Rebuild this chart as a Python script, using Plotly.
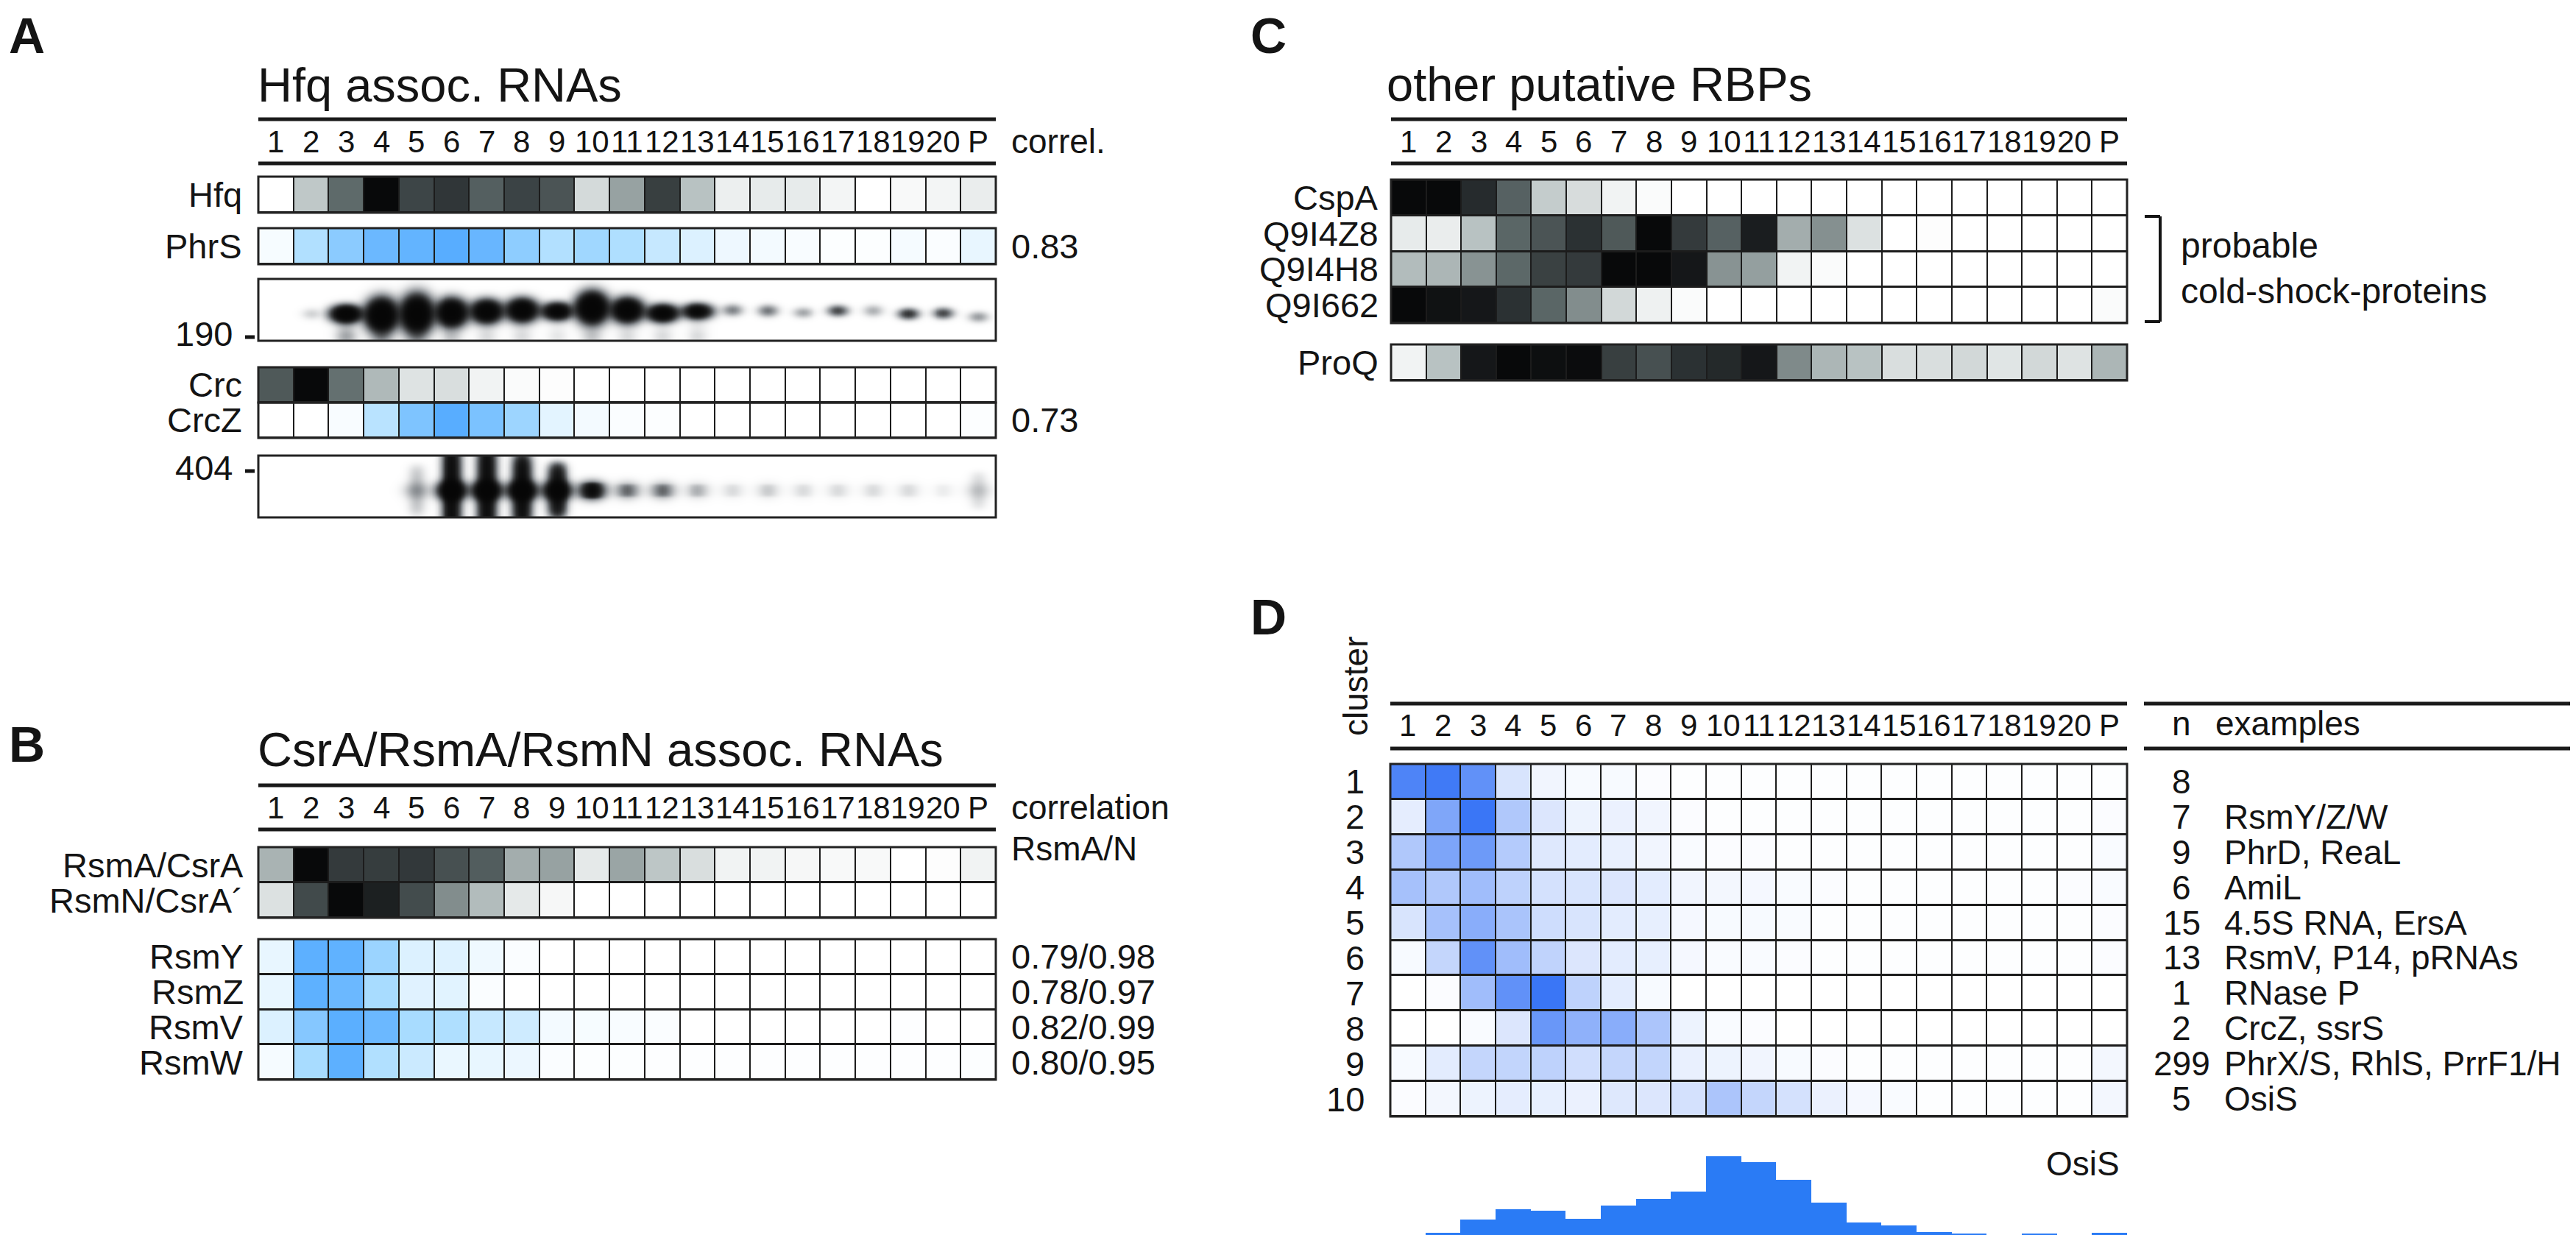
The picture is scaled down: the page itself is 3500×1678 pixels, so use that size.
import numpy as np
import plotly.graph_objects as go

W, H = 3500, 1678
FONT = "Liberation Sans, Arial, Helvetica, sans-serif"
INK = "#141414"

# ------------------------------------------------------------------ data
fractions = [str(i) for i in range(1, 21)] + ["P"]

# Panel A  (Hfq associated RNAs)
hfq_profile = [0.00, 0.27, 0.60, 1.00, 0.77, 0.84, 0.65, 0.78, 0.70, 0.18, 0.41,
               0.80, 0.30, 0.08, 0.10, 0.10, 0.05, 0.00, 0.03, 0.05, 0.09]
phrs_profile = [0.05, 0.45, 0.68, 0.88, 0.93, 1.00, 0.90, 0.66, 0.44, 0.55, 0.46,
                0.33, 0.20, 0.10, 0.07, 0.04, 0.02, 0.02, 0.06, 0.03, 0.13]
crc_profile = [0.68, 1.00, 0.58, 0.33, 0.14, 0.16, 0.06, 0.02, 0.01, 0.00, 0.00,
               0.00, 0.00, 0.00, 0.00, 0.00, 0.00, 0.00, 0.00, 0.00, 0.00]
crcz_profile = [0.00, 0.00, 0.04, 0.40, 0.76, 1.00, 0.78, 0.57, 0.16, 0.07, 0.03,
                0.02, 0.00, 0.00, 0.00, 0.00, 0.00, 0.00, 0.00, 0.00, 0.02]
corr_A = ["0.83", "0.73"]

# Northern blot of PhrS (band signal, band position, band spread, trail)
phrs_blot_signal = [0.0, 0.06, 1.8, 2.2, 2.2, 2.0, 1.8, 1.8, 1.5, 2.2, 1.9,
                    1.6, 1.3, 0.22, 0.25, 0.14, 0.40, 0.12, 0.50, 0.40, 0.16]
phrs_blot_pos = [0.44, 0.44, 0.44, 0.42, 0.44, 0.46, 0.48, 0.50, 0.48, 0.54, 0.50,
                 0.45, 0.48, 0.50, 0.49, 0.46, 0.49, 0.49, 0.44, 0.45, 0.39]
phrs_blot_spread = [0.06, 0.06, 0.080, 0.150, 0.170, 0.125, 0.105, 0.105, 0.080, 0.140, 0.110,
                    0.080, 0.072, 0.060, 0.060, 0.055, 0.055, 0.060, 0.055, 0.055, 0.055]
phrs_blot_trail = [0.0, 0.0, 0.09, 0.10, 0.08, 0.05, 0.03, 0.03, 0.02, 0.05, 0.03,
                   0.03, 0.03, 0.0, 0.0, 0.0, 0.0, 0.0, 0.0, 0.0, 0.0]
# Northern blot of CrcZ (signal, streak half-length)
crcz_blot_signal = [0.0, 0.0, 0.0, 0.0, 0.08, 1.0, 1.0, 1.0, 0.85, 0.45, 0.12,
                    0.12, 0.05, 0.02, 0.03, 0.02, 0.02, 0.02, 0.02, 0.01, 0.04]
crcz_blot_length = [0.0, 0.0, 0.0, 0.0, 0.40, 0.80, 0.80, 0.58, 0.42, 0.12, 0.10,
                    0.10, 0.10, 0.10, 0.10, 0.10, 0.10, 0.10, 0.10, 0.10, 0.30]

# Panel B  (CsrA/RsmA/RsmN associated RNAs)
rsma_profile = [0.35, 1.00, 0.82, 0.81, 0.83, 0.72, 0.66, 0.37, 0.41, 0.11, 0.40,
                0.28, 0.16, 0.06, 0.06, 0.04, 0.03, 0.03, 0.00, 0.01, 0.06]
rsmn_profile = [0.15, 0.75, 1.00, 0.92, 0.74, 0.48, 0.32, 0.11, 0.04, 0.00, 0.00,
                0.00, 0.00, 0.00, 0.00, 0.00, 0.00, 0.00, 0.00, 0.00, 0.00]
rsmy_profile = [0.13, 0.97, 0.95, 0.58, 0.20, 0.19, 0.09, 0.03, 0.00, 0.00, 0.00,
                0.00, 0.00, 0.00, 0.00, 0.00, 0.00, 0.00, 0.00, 0.00, 0.00]
rsmz_profile = [0.13, 0.96, 0.88, 0.50, 0.18, 0.17, 0.03, 0.00, 0.00, 0.00, 0.00,
                0.00, 0.00, 0.00, 0.00, 0.00, 0.00, 0.00, 0.00, 0.00, 0.00]
rsmv_profile = [0.20, 0.72, 0.98, 0.88, 0.50, 0.46, 0.33, 0.28, 0.07, 0.05, 0.04,
                0.03, 0.00, 0.00, 0.00, 0.00, 0.00, 0.00, 0.01, 0.00, 0.00]
rsmw_profile = [0.06, 0.50, 0.97, 0.45, 0.30, 0.12, 0.13, 0.11, 0.03, 0.02, 0.02,
                0.01, 0.01, 0.01, 0.01, 0.01, 0.01, 0.01, 0.01, 0.01, 0.02]
corr_B = ["0.79/0.98", "0.78/0.97", "0.82/0.99", "0.80/0.95"]

# Panel C  (other putative RBPs)
cspa_profile = [1.00, 1.00, 0.88, 0.64, 0.25, 0.17, 0.06, 0.02, 0.00, 0.00, 0.00,
                0.00, 0.00, 0.00, 0.00, 0.00, 0.00, 0.00, 0.00, 0.00, 0.00]
q9i4z8_profile = [0.10, 0.09, 0.30, 0.62, 0.70, 0.86, 0.68, 1.00, 0.82, 0.64, 0.93,
                  0.37, 0.47, 0.15, 0.00, 0.01, 0.00, 0.00, 0.00, 0.00, 0.00]
q9i4h8_profile = [0.32, 0.34, 0.46, 0.61, 0.79, 0.82, 1.00, 1.00, 0.95, 0.46, 0.42,
                  0.06, 0.02, 0.00, 0.00, 0.00, 0.00, 0.00, 0.00, 0.00, 0.00]
q9i662_profile = [1.00, 0.97, 0.95, 0.86, 0.62, 0.48, 0.19, 0.07, 0.02, 0.00, 0.00,
                  0.00, 0.00, 0.00, 0.00, 0.00, 0.00, 0.00, 0.00, 0.00, 0.02]
proq_profile = [0.06, 0.30, 0.95, 1.00, 0.98, 0.99, 0.80, 0.72, 0.86, 0.89, 0.95,
                0.49, 0.34, 0.30, 0.16, 0.16, 0.19, 0.13, 0.19, 0.14, 0.34]

# Panel D  (clusters)
cluster_ids = [str(i) for i in range(1, 11)]
cluster_profiles = [
    [0.90, 0.97, 0.80, 0.20, 0.07, 0.04, 0.04, 0.02, 0.01, 0.01, 0.01, 0.01, 0.01, 0.01, 0.01, 0.01, 0.01, 0.01, 0.01, 0.01, 0.01],
    [0.13, 0.65, 1.00, 0.40, 0.18, 0.09, 0.10, 0.07, 0.02, 0.01, 0.01, 0.01, 0.01, 0.01, 0.01, 0.01, 0.01, 0.01, 0.01, 0.01, 0.02],
    [0.40, 0.66, 0.74, 0.38, 0.17, 0.14, 0.11, 0.07, 0.03, 0.02, 0.02, 0.01, 0.01, 0.01, 0.01, 0.01, 0.01, 0.01, 0.01, 0.01, 0.03],
    [0.45, 0.40, 0.48, 0.33, 0.22, 0.20, 0.18, 0.14, 0.07, 0.06, 0.05, 0.03, 0.02, 0.01, 0.01, 0.01, 0.01, 0.01, 0.01, 0.02, 0.03],
    [0.20, 0.45, 0.60, 0.43, 0.25, 0.20, 0.14, 0.12, 0.05, 0.04, 0.04, 0.03, 0.01, 0.01, 0.01, 0.01, 0.01, 0.01, 0.01, 0.01, 0.02],
    [0.04, 0.30, 0.80, 0.48, 0.32, 0.18, 0.14, 0.12, 0.05, 0.03, 0.03, 0.02, 0.01, 0.01, 0.01, 0.01, 0.01, 0.01, 0.01, 0.01, 0.02],
    [0.00, 0.02, 0.48, 0.80, 1.00, 0.33, 0.14, 0.04, 0.00, 0.00, 0.00, 0.00, 0.00, 0.00, 0.00, 0.00, 0.00, 0.00, 0.00, 0.00, 0.00],
    [0.00, 0.00, 0.03, 0.18, 0.76, 0.57, 0.60, 0.42, 0.09, 0.03, 0.02, 0.00, 0.00, 0.00, 0.00, 0.00, 0.00, 0.00, 0.00, 0.00, 0.00],
    [0.04, 0.14, 0.30, 0.31, 0.33, 0.24, 0.30, 0.31, 0.11, 0.09, 0.07, 0.04, 0.02, 0.01, 0.01, 0.01, 0.01, 0.01, 0.01, 0.01, 0.06],
    [0.02, 0.06, 0.09, 0.13, 0.12, 0.10, 0.17, 0.18, 0.22, 0.42, 0.30, 0.22, 0.10, 0.05, 0.03, 0.01, 0.01, 0.01, 0.01, 0.01, 0.06],
]
cluster_n = ["8", "7", "9", "6", "15", "13", "1", "2", "299", "5"]
cluster_examples = ["", "RsmY/Z/W", "PhrD, ReaL", "AmiL", "4.5S RNA, ErsA",
                    "RsmV, P14, pRNAs", "RNase P", "CrcZ, ssrS",
                    "PhrX/S, RhlS, PrrF1/H", "OsiS"]
osis_profile = [0.00, 0.47, 2.11, 3.39, 3.20, 2.24, 3.88, 4.69, 5.56, 10.00, 9.25,
                7.05, 4.22, 1.74, 1.34, 0.53, 0.34, 0.06, 0.40, 0.16, 0.47]

# ------------------------------------------------------------------ styles
GRAY_CS = [[0, "#ffffff"], [0.3, "#b8c2c2"], [0.6, "#5e6a6a"], [0.85, "#2e3436"], [1, "#08090a"]]
BLUE_CS = [[0, "#ffffff"], [0.5, "#a8dcff"], [1, "#58adff"]]
DBLUE_CS = [[0, "#ffffff"], [1, "#3a76f6"]]
BLOT_CS = [[0, "#ffffff"], [0.5, "#8a8e92"], [1, "#060606"]]


def X(px):
    return px / W


def Y(py):
    return 1 - py / H


fig = go.Figure()
layout_axes = {}
shapes = []
ann = []

# axes geometry in pixels: (x0, x1, y0_top, y1_bottom)
boxes = {
    "hfq": (343, 1345, 232, 281),
    "phrs": (343, 1345, 302, 351),
    "gel1": (343, 1345, 371, 455),
    "crc": (343, 1345, 491, 539),
    "crcz": (343, 1345, 539, 587),
    "gel2": (343, 1345, 611, 695),
    "rsmAN": (343, 1345, 1143, 1239),
    "rsmYW": (343, 1345, 1268, 1459),
    "csp": (1882, 2882, 236, 431),
    "proq": (1882, 2882, 460, 509),
    "clus": (1881, 2882, 1030, 1509),
    "hist": (1881, 2882, 1563, 1672),
}
axis_id = {}


def make_axis(key, yrange):
    n = len(axis_id) + 1
    axis_id[key] = n
    x0, x1, y0, y1 = boxes[key]
    layout_axes["xaxis" if n == 1 else f"xaxis{n}"] = dict(
        domain=[X(x0), X(x1)], range=[-0.5, 20.5], visible=False,
        anchor="y" if n == 1 else f"y{n}", fixedrange=True)
    layout_axes["yaxis" if n == 1 else f"yaxis{n}"] = dict(
        domain=[Y(y1), Y(y0)], range=yrange, visible=False,
        anchor="x" if n == 1 else f"x{n}", fixedrange=True)
    xr = "x" if n == 1 else f"x{n}"
    yr = "y" if n == 1 else f"y{n}"
    return xr, yr


def heat_block(key, rows, names, cs, label_right):
    nrow = len(rows)
    xr, yr = make_axis(key, [nrow - 0.5, -0.5])
    shapes.append(dict(type="rect", xref=xr + " domain", yref=yr + " domain",
                       x0=0, x1=1, y0=0, y1=1, fillcolor="#1c1c1c",
                       line=dict(width=0), layer="below"))
    fig.add_trace(go.Heatmap(z=rows, x=list(range(21)), y=list(range(nrow)),
                             zmin=0, zmax=1, colorscale=cs, showscale=False,
                             xgap=2, ygap=3, hoverinfo="skip",
                             xaxis=xr, yaxis=yr))
    shapes.append(dict(type="rect", xref=xr + " domain", yref=yr + " domain",
                       x0=0, x1=1, y0=0, y1=1, line=dict(color="#222222", width=3),
                       fillcolor="rgba(0,0,0,0)", layer="above"))
    for i, nm in enumerate(names):
        if nm:
            ann.append(dict(text=nm, xref="paper", yref=yr, x=X(label_right), y=i,
                            xanchor="right", yanchor="middle", showarrow=False,
                            font=dict(size=47, family=FONT, color=INK)))
    return xr, yr


gx = np.linspace(-0.5, 20.5, 253)
gy = np.linspace(0, 1, 85)
GX, GY = np.meshgrid(gx, gy)


def phrs_blot():
    z = np.zeros_like(GX)
    for i, s in enumerate(phrs_blot_signal):
        if s <= 0:
            continue
        wx = 0.25 if s > 1 else 0.18
        lane = np.exp(-0.5 * ((GX - i) / wx) ** 2)
        z += s * lane * np.exp(-0.5 * ((GY - phrs_blot_pos[i]) / phrs_blot_spread[i]) ** 2)
        below = 1 / (1 + np.exp((GY - phrs_blot_pos[i]) / 0.03))
        z += phrs_blot_trail[i] * np.exp(-0.5 * ((GX - i) / 0.2) ** 2) * below
        z += 0.6 * phrs_blot_trail[i] * np.exp(-0.5 * ((GX - i) / 0.18) ** 2) * np.exp(-0.5 * ((GY - 0.08) / 0.06) ** 2)
    return 1 - np.exp(-3.5 * z)


def crcz_blot():
    z = np.zeros_like(GX)
    c = 0.44
    for i, s in enumerate(crcz_blot_signal):
        if s <= 0:
            continue
        L = crcz_blot_length[i]
        z += s * np.exp(-0.5 * ((GX - i) / 0.16) ** 2) * np.exp(-np.abs((GY - c) / L) ** 6)
        z += 1.5 * s * np.exp(-0.5 * ((GX - i) / 0.24) ** 2) * np.exp(-0.5 * ((GY - c) / 0.09) ** 2)
    return 1 - np.exp(-3.5 * z)


def gel_block(key, zimg, size_label, tick_py, label_py):
    xr, yr = make_axis(key, [0, 1])
    fig.add_trace(go.Heatmap(z=zimg, x=gx, y=gy, zmin=0, zmax=1, colorscale=BLOT_CS,
                             showscale=False, zsmooth="best", hoverinfo="skip",
                             xaxis=xr, yaxis=yr))
    shapes.append(dict(type="rect", xref=xr + " domain", yref=yr + " domain",
                       x0=0, x1=1, y0=0, y1=1, line=dict(color="#222222", width=3),
                       fillcolor="rgba(0,0,0,0)", layer="above"))
    shapes.append(dict(type="line", xref="paper", yref="paper", x0=X(325), x1=X(338),
                       y0=Y(tick_py), y1=Y(tick_py), line=dict(color=INK, width=5)))
    ann.append(dict(text=size_label, xref="paper", yref="paper", x=X(310), y=Y(label_py),
                    xanchor="right", yanchor="middle", showarrow=False,
                    font=dict(size=47, family=FONT, color=INK)))


def rules(x0, x1, ytop, ybot):
    for yy in (ytop, ybot):
        shapes.append(dict(type="line", xref="paper", yref="paper", x0=X(x0), x1=X(x1),
                           y0=Y(yy), y1=Y(yy), line=dict(color="#1a1a1a", width=5)))


def col_labels(xr, ypx):
    for i, f in enumerate(fractions):
        ann.append(dict(text=f, xref=xr, yref="paper", x=i, y=Y(ypx), xanchor="center",
                        yanchor="middle", showarrow=False,
                        font=dict(size=42, family=FONT, color=INK)))


def text(t, xpx, ypx, anchor="left", size=47, yref="paper", yval=None, bold=False,
         angle=0, yanchor="middle"):
    ann.append(dict(text=f"<b>{t}</b>" if bold else t, xref="paper", yref=yref,
                    x=X(xpx), y=Y(ypx) if yval is None else yval,
                    xanchor=anchor, yanchor=yanchor, showarrow=False, textangle=angle,
                    font=dict(size=size, family=FONT, color=INK)))


# ------------------------------------------------------------------ Panel A
text("A", 2, 0, size=68, bold=True, yanchor="top")
text("Hfq assoc. RNAs", 340, 107, size=65)
rules(343, 1345, 154, 214)
xa, _ = heat_block("hfq", [hfq_profile], ["Hfq"], GRAY_CS, 323)
col_labels(xa, 184)
text("correl.", 1364, 184, size=46)
_, yp = heat_block("phrs", [phrs_profile], ["PhrS"], BLUE_CS, 323)
text(corr_A[0], 1364, 0, yref=yp, yval=0)
gel_block("gel1", phrs_blot(), "190", 450, 445)
heat_block("crc", [crc_profile], ["Crc"], GRAY_CS, 323)
_, yz = heat_block("crcz", [crcz_profile], ["CrcZ"], BLUE_CS, 323)
text(corr_A[1], 1364, 0, yref=yz, yval=0)
gel_block("gel2", crcz_blot(), "404", 632, 628)

# ------------------------------------------------------------------ Panel B
text("B", 2, 1003, size=68, bold=True)
text("CsrA/RsmA/RsmN assoc. RNAs", 340, 1010, size=65)
rules(343, 1345, 1059, 1119)
xb, _ = heat_block("rsmAN", [rsma_profile, rsmn_profile], ["RsmA/CsrA", "RsmN/CsrA\u00b4"], GRAY_CS, 325)
col_labels(xb, 1089)
text("correlation", 1364, 1089, size=46)
text("RsmA/N", 1364, 1145, size=46)
_, yb = heat_block("rsmYW", [rsmy_profile, rsmz_profile, rsmv_profile, rsmw_profile],
                   ["RsmY", "RsmZ", "RsmV", "RsmW"], BLUE_CS, 325)
for i, c in enumerate(corr_B):
    text(c, 1364, 0, yref=yb, yval=i)

# ------------------------------------------------------------------ Panel C
text("C", 1689, 0, size=68, bold=True, yanchor="top")
text("other putative RBPs", 1874, 106, size=65)
rules(1882, 2882, 154, 214)
xc, _ = heat_block("csp", [cspa_profile, q9i4z8_profile, q9i4h8_profile, q9i662_profile],
                   ["CspA", "Q9I4Z8", "Q9I4H8", "Q9I662"], GRAY_CS, 1867)
col_labels(xc, 184)
heat_block("proq", [proq_profile], ["ProQ"], GRAY_CS, 1867)
for seg in [((2927, 286), (2927, 429)), ((2906, 286), (2927, 286)), ((2906, 429), (2927, 429))]:
    shapes.append(dict(type="line", xref="paper", yref="paper", x0=X(seg[0][0]), x1=X(seg[1][0]),
                       y0=Y(seg[0][1]), y1=Y(seg[1][1]), line=dict(color=INK, width=4)))
text("probable", 2953, 325, size=48)
text("cold-shock-proteins", 2953, 387, size=48)

# ------------------------------------------------------------------ Panel D
text("D", 1689, 830, size=68, bold=True)
text("cluster", 1834, 925, anchor="center", size=46, angle=-90)
rules(1881, 2882, 948, 1009)
rules(2905, 3500, 948, 1009)
xd, yd = heat_block("clus", cluster_profiles, cluster_ids, DBLUE_CS, 1848)
col_labels(xd, 977)
text("n", 2956, 975, anchor="center", size=46)
text("examples", 3000, 975, size=46)
for i in range(len(cluster_ids)):
    text(cluster_n[i], 2956, 0, anchor="center", size=46, yref=yd, yval=i)
    if cluster_examples[i]:
        text(cluster_examples[i], 3012, 0, size=46, yref=yd, yval=i)

xh, yh = make_axis("hist", [0, 10.0])
shapes.append(dict(type="rect", xref="paper", yref="paper", x0=X(1881), x1=X(2882),
                   y0=Y(1678), y1=Y(1672), fillcolor="#d3dadd", line=dict(width=0)))
fig.add_trace(go.Bar(x=list(range(21)), y=osis_profile, width=1.0,
                     marker=dict(color="#2a7bf5", line=dict(width=0)),
                     hoverinfo="skip", xaxis=xh, yaxis=yh))
text("OsiS", 2874, 1573, anchor="right", size=46)

fig.update_layout(
    width=W, height=H, margin=dict(l=0, r=0, t=0, b=0),
    paper_bgcolor="white", plot_bgcolor="white", showlegend=False,
    bargap=0, shapes=shapes, annotations=ann, **layout_axes,
)
fig.write_html("out.html")
